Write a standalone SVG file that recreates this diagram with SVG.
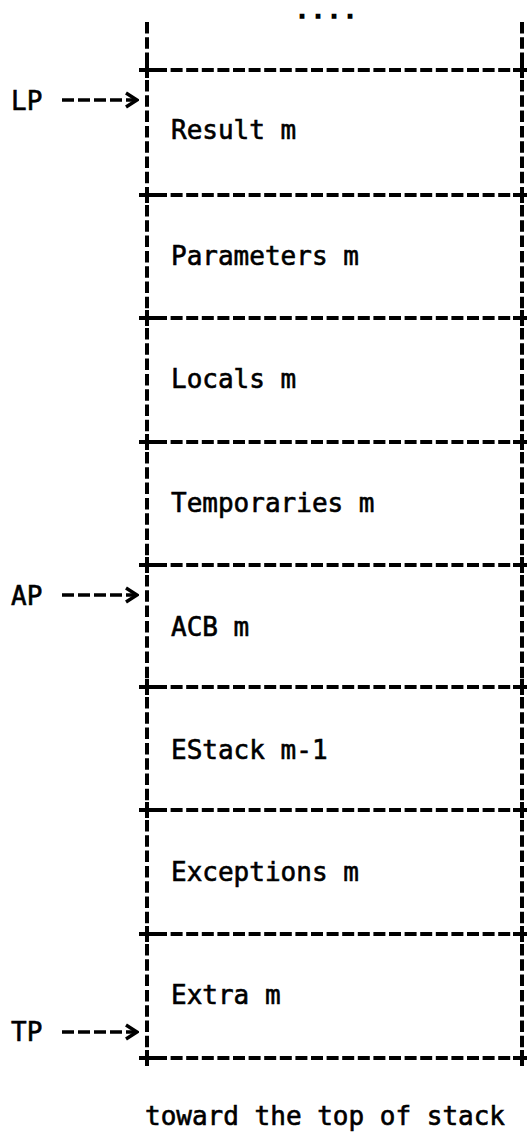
<svg xmlns="http://www.w3.org/2000/svg" width="527" height="1135" viewBox="0 0 527 1135">
<style>
text{font-family:"DejaVu Sans Mono","Liberation Mono",monospace;font-size:26px;fill:#000;stroke:#000;stroke-width:0.6}
.v{stroke:#000;stroke-width:4;stroke-dasharray:11.5 3.8;fill:none}
.h{stroke:#000;stroke-width:4;stroke-dasharray:12 3.6;fill:none}
.p{stroke:#000;stroke-width:4;fill:none}
.a{stroke:#000;stroke-width:3.5;stroke-dasharray:12 4;fill:none}
</style>
<defs>
<marker id="chev" markerUnits="userSpaceOnUse" markerWidth="16" markerHeight="18" viewBox="0 0 16 18" refX="14" refY="9" orient="auto">
<polyline points="3,2 14,9 3,16" fill="none" stroke="#000" stroke-width="3.5"/>
</marker>
</defs>
<rect width="527" height="1135" fill="#fff"/>
<g id="top">
<text x="296" y="18" font-weight="bold" style="font-size:20px;letter-spacing:4px;stroke-width:1.5">....</text>
<path class="v" d="M147,22 V64 M522,22 V64"/>
</g>
<g id="cell-result">
<path class="h" d="M155,70 H515"/>
<path class="p" d="M139,70 H156 M147,62 V78 M513,70 H527 M522,62 V78"/>
<path class="v" d="M147,80 V190 M522,80 V190"/>
<text x="171" y="139">Result m</text>
</g>
<g id="cell-parameters">
<path class="h" d="M155,195 H515"/>
<path class="p" d="M139,195 H156 M147,187 V203 M513,195 H527 M522,187 V203"/>
<path class="v" d="M147,205 V313 M522,205 V313"/>
<text x="171" y="265">Parameters m</text>
</g>
<g id="cell-locals">
<path class="h" d="M155,318 H515"/>
<path class="p" d="M139,318 H156 M147,310 V326 M513,318 H527 M522,310 V326"/>
<path class="v" d="M147,328 V437 M522,328 V437"/>
<text x="171" y="388">Locals m</text>
</g>
<g id="cell-temporaries">
<path class="h" d="M155,442 H515"/>
<path class="p" d="M139,442 H156 M147,434 V450 M513,442 H527 M522,434 V450"/>
<path class="v" d="M147,452 V560 M522,452 V560"/>
<text x="171" y="512">Temporaries m</text>
</g>
<g id="cell-acb">
<path class="h" d="M155,565 H515"/>
<path class="p" d="M139,565 H156 M147,557 V573 M513,565 H527 M522,557 V573"/>
<path class="v" d="M147,575 V682 M522,575 V682"/>
<text x="171" y="636">ACB m</text>
</g>
<g id="cell-estack">
<path class="h" d="M155,687 H515"/>
<path class="p" d="M139,687 H156 M147,679 V695 M513,687 H527 M522,679 V695"/>
<path class="v" d="M147,697 V805 M522,697 V805"/>
<text x="171" y="759">EStack m-1</text>
</g>
<g id="cell-exceptions">
<path class="h" d="M155,810 H515"/>
<path class="p" d="M139,810 H156 M147,802 V818 M513,810 H527 M522,802 V818"/>
<path class="v" d="M147,820 V929 M522,820 V929"/>
<text x="171" y="881">Exceptions m</text>
</g>
<g id="cell-extra">
<path class="h" d="M155,934 H515"/>
<path class="p" d="M139,934 H156 M147,926 V942 M513,934 H527 M522,926 V942"/>
<path class="v" d="M147,944 V1053 M522,944 V1053"/>
<text x="171" y="1004">Extra m</text>
<path class="h" d="M155,1058 H515"/>
<path class="p" d="M139,1058 H156 M147,1050 V1066 M513,1058 H527 M522,1050 V1066"/>
</g>
<g id="label-lp"><text x="11" y="110">LP</text></g>
<g id="label-ap"><text x="11" y="605">AP</text></g>
<g id="label-tp"><text x="11" y="1041">TP</text></g>
<g id="connectors">
<path class="a" d="M62,100 H137" marker-end="url(#chev)"/>
<path class="a" d="M62,595 H137" marker-end="url(#chev)"/>
<path class="a" d="M62,1032 H137" marker-end="url(#chev)"/>
</g>
<g id="caption"><text x="145" y="1125">toward the top of stack</text></g>
</svg>
